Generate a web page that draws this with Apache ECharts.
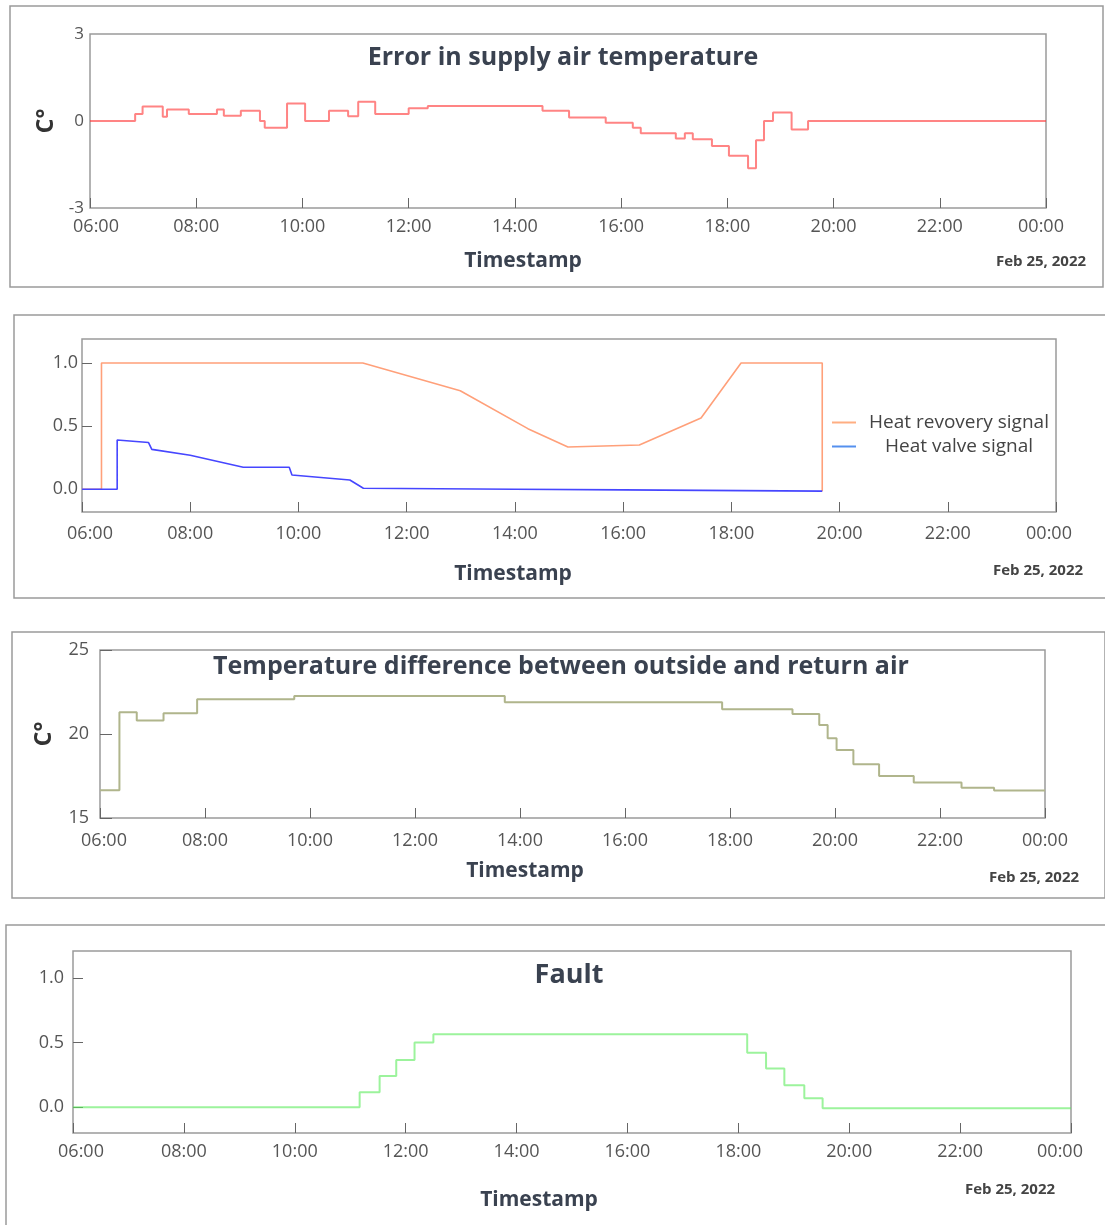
<!DOCTYPE html>
<html>
<head>
<meta charset="utf-8">
<script src="https://cdn.jsdelivr.net/npm/echarts@6/dist/echarts.min.js"></script>
<style>
  html, body { margin: 0; padding: 0; background: #ffffff; }
  #chart { width: 1105px; height: 1225px; }
</style>
</head>
<body>
<div id="chart"></div>
<script>
// ---------- DATA ----------
const timeTickLabels = ['06:00','08:00','10:00','12:00','14:00','16:00','18:00','20:00','22:00','00:00'];

// Panel 1: Error in supply air temperature (step, value changes at given hour)
const supplyErrHours  = [6, 6.85, 6.99, 7.37, 7.45, 7.86, 8.39, 8.52, 8.84, 9.20, 9.29, 9.71, 10.05, 10.5, 10.86, 11.05, 11.37, 12.0, 12.36, 14.52, 15.02, 15.71, 16.22, 16.37, 17.03, 17.2, 17.35, 17.71, 18.03, 18.39, 18.54, 18.69, 18.86, 19.21, 19.52, 24];
const supplyErrValues = [0, 0.24, 0.5, 0.15, 0.4, 0.24, 0.4, 0.18, 0.35, 0, -0.23, 0.6, 0, 0.35, 0.16, 0.66, 0.24, 0.44, 0.52, 0.35, 0.12, -0.06, -0.23, -0.42, -0.6, -0.42, -0.63, -0.86, -1.2, -1.63, -0.66, 0, 0.29, -0.29, 0, 0];

// Panel 2: signals
const heatRecoveryHours  = [6, 6.36, 6.36, 11.19, 12.99, 14.24, 14.98, 16.3, 17.44, 18.18, 19.68, 19.68];
const heatRecoveryValues = [0, 0, 1.0, 1.0, 0.78, 0.48, 0.335, 0.35, 0.565, 1.0, 1.0, -0.015];
const heatValveHours  = [6, 6.65, 6.65, 7.23, 7.29, 8.0, 8.98, 9.83, 9.88, 10.95, 11.2, 14, 16, 19.68];
const heatValveValues = [0, 0, 0.39, 0.37, 0.316, 0.27, 0.174, 0.174, 0.113, 0.073, 0.008, 0.0, -0.005, -0.015];

// Panel 3: Temperature difference between outside and return air (step)
const tempDiffHours  = [6, 6.37, 6.70, 7.21, 7.85, 9.70, 13.71, 17.85, 19.19, 19.70, 19.86, 20.03, 20.35, 20.84, 21.50, 22.41, 23.03, 24];
const tempDiffValues = [16.65, 21.29, 20.8, 21.23, 22.07, 22.26, 21.89, 21.47, 21.19, 20.54, 19.74, 19.05, 18.2, 17.5, 17.12, 16.8, 16.63, 16.63];

// Panel 4: Fault (step)
const faultHours  = [6, 11.17, 11.53, 11.83, 12.16, 12.5, 18.16, 18.5, 18.83, 19.19, 19.52, 24];
const faultValues = [0, 0.116, 0.242, 0.366, 0.502, 0.565, 0.422, 0.30, 0.17, 0.07, -0.008, -0.008];

// ---------- HELPERS ----------
const zip = (xs, ys) => xs.map((x, i) => [x, ys[i]]);
const FONT = 'Open Sans';
const tickColor = '#666';
const labelColor = '#555';
const borderColor = '#9a9a9a';
const titleColor = '#3a4250';

function xAxisFor(gridIndex, margin, firstShift, lastShift) {
  const base = { fontFamily: FONT, fontSize: 18, color: labelColor };
  return {
    type: 'value', gridIndex, min: 6, max: 24, interval: 2,
    axisLine: { show: false, onZero: false },
    axisTick: { show: true, inside: true, length: 10, lineStyle: { color: tickColor, width: 1 } },
    splitLine: { show: false },
    axisLabel: {
      margin, color: labelColor, fontFamily: FONT, fontSize: 18,
      formatter: v => {
        const i = Math.round((v - 6) / 2);
        const t = timeTickLabels[i];
        if (i === 0) return '{f|' + t + '}';
        if (i === timeTickLabels.length - 1) return '{l|' + t + '}';
        return t;
      },
      rich: {
        f: Object.assign({ padding: [0, 0, 0, 2 * firstShift] }, base),
        l: Object.assign({ padding: [0, 2 * lastShift, 0, 0] }, base)
      }
    }
  };
}

const chart = echarts.init(document.getElementById('chart'), null, { renderer: 'canvas' });

const txt = (x, y, text, size, bold, color) => ({
  type: 'text', x, y, silent: true,
  style: { text, x: 0, y: 0, fontFamily: FONT, fontSize: size, fontWeight: bold ? 'bold' : 'normal',
           fill: color, textAlign: 'center', textVerticalAlign: 'middle' }
});

const frame = (x, y, w, h) => ({
  type: 'rect', silent: true, shape: { x, y, width: w, height: h },
  style: { fill: 'none', stroke: borderColor, lineWidth: 1.5 }
});

const option = {
  backgroundColor: '#ffffff',
  animation: false,
  grid: [
    { left: 90, top: 34, width: 956, height: 174, show: true, borderColor, borderWidth: 1.5, backgroundColor: 'transparent' },
    { left: 82, top: 339, width: 974, height: 173, show: true, borderColor, borderWidth: 1.5, backgroundColor: 'transparent' },
    { left: 100, top: 650, width: 945, height: 168, show: true, borderColor, borderWidth: 1.5, backgroundColor: 'transparent' },
    { left: 73, top: 951, width: 998, height: 182, show: true, borderColor, borderWidth: 1.5, backgroundColor: 'transparent' }
  ],
  xAxis: [ xAxisFor(0, 10, 6, 5), xAxisFor(1, 13, 8, 7), xAxisFor(2, 14, 4, 0), xAxisFor(3, 10, 8, 11) ],
  yAxis: [
    {
      type: 'value', gridIndex: 0, min: -3, max: 3, interval: 3,
      axisLine: { show: false }, axisTick: { show: false }, splitLine: { show: false },
      axisLabel: { margin: 6, color: labelColor, fontFamily: FONT, fontSize: 17 },
      name: 'C°', nameLocation: 'middle', nameRotate: 90, nameGap: 31,
      nameTextStyle: { fontFamily: FONT, fontSize: 23, fontWeight: 'bold', color: '#333' }
    },
    {
      type: 'value', gridIndex: 1, min: -0.18, max: 1.19,
      axisLine: { show: false }, splitLine: { show: false },
      axisTick: { show: true, inside: true, length: 10, customValues: [0, 0.5, 1], lineStyle: { color: tickColor } },
      axisLabel: { margin: 4, color: labelColor, fontFamily: FONT, fontSize: 18, customValues: [0, 0.5, 1],
                   formatter: v => v.toFixed(1) }
    },
    {
      type: 'value', gridIndex: 2, min: 15, max: 25, interval: 5,
      axisLine: { show: false }, splitLine: { show: false },
      axisTick: { show: true, inside: true, length: 12, lineStyle: { color: tickColor } },
      axisLabel: { margin: 11, color: labelColor, fontFamily: FONT, fontSize: 18 },
      name: 'C°', nameLocation: 'middle', nameRotate: 90, nameGap: 44,
      nameTextStyle: { fontFamily: FONT, fontSize: 23, fontWeight: 'bold', color: '#333' }
    },
    {
      type: 'value', gridIndex: 3, min: -0.2, max: 1.21,
      axisLine: { show: false }, splitLine: { show: false },
      axisTick: { show: true, inside: true, length: 10, customValues: [0, 0.5, 1], lineStyle: { color: tickColor } },
      axisLabel: { margin: 9, color: labelColor, fontFamily: FONT, fontSize: 18, customValues: [0, 0.5, 1],
                   formatter: v => v.toFixed(1) }
    }
  ],
  legend: {
    orient: 'vertical', left: 827, top: 408,
    itemWidth: 24, itemHeight: 2, itemGap: 5, icon: 'rect',
    data: [
      { name: 'Heat revovery signal', itemStyle: { color: '#ffae82' } },
      { name: 'Heat valve signal', itemStyle: { color: '#5590ee' } }
    ],
    formatter: name => '{a|' + name + '}',
    textStyle: {
      color: '#444', fontFamily: FONT, fontSize: 19,
      rich: { a: { width: 196, align: 'center', fontFamily: FONT, fontSize: 19, color: '#444', lineHeight: 19 } }
    }
  },
  series: [
    {
      name: 'Supply air error', type: 'line', xAxisIndex: 0, yAxisIndex: 0, step: 'end',
      symbol: 'none', data: zip(supplyErrHours, supplyErrValues),
      lineStyle: { color: 'rgba(255,50,50,0.6)', width: 2 }, itemStyle: { color: 'rgba(255,50,50,0.6)' }
    },
    {
      name: 'Heat revovery signal', type: 'line', xAxisIndex: 1, yAxisIndex: 1,
      symbol: 'none', data: zip(heatRecoveryHours, heatRecoveryValues),
      lineStyle: { color: '#ffa07a', width: 1.6 }, itemStyle: { color: '#ffa07a' }
    },
    {
      name: 'Heat valve signal', type: 'line', xAxisIndex: 1, yAxisIndex: 1,
      symbol: 'none', data: zip(heatValveHours, heatValveValues),
      lineStyle: { color: '#4646ff', width: 1.6 }, itemStyle: { color: '#4646ff' }
    },
    {
      name: 'Temperature difference', type: 'line', xAxisIndex: 2, yAxisIndex: 2, step: 'end',
      symbol: 'none', data: zip(tempDiffHours, tempDiffValues),
      lineStyle: { color: '#b0b58c', width: 2 }, itemStyle: { color: '#b0b58c' }
    },
    {
      name: 'Fault', type: 'line', xAxisIndex: 3, yAxisIndex: 3, step: 'end',
      symbol: 'none', data: zip(faultHours, faultValues),
      lineStyle: { color: 'rgba(90,235,90,0.6)', width: 2 }, itemStyle: { color: 'rgba(90,235,90,0.6)' }
    }
  ],
  graphic: [
    frame(10, 6, 1093, 281),
    frame(14, 315, 1092, 283),
    frame(12, 632, 1093, 266),
    frame(6, 925, 1100, 310),
    txt(563, 58, 'Error in supply air temperature', 25, true, titleColor),
    txt(523, 261, 'Timestamp', 21, true, titleColor),
    txt(1041, 262, 'Feb 25, 2022', 15, true, '#444'),
    txt(513, 574, 'Timestamp', 21, true, titleColor),
    txt(1038, 571, 'Feb 25, 2022', 15, true, '#444'),
    txt(561, 667, 'Temperature difference between outside and return air', 25, true, titleColor),
    txt(525, 871, 'Timestamp', 21, true, titleColor),
    txt(1034, 878, 'Feb 25, 2022', 15, true, '#444'),
    txt(569, 975, 'Fault', 27, true, titleColor),
    txt(539, 1200, 'Timestamp', 21, true, titleColor),
    txt(1010, 1190, 'Feb 25, 2022', 15, true, '#444')
  ]
};

chart.setOption(option);
</script>
</body>
</html>
